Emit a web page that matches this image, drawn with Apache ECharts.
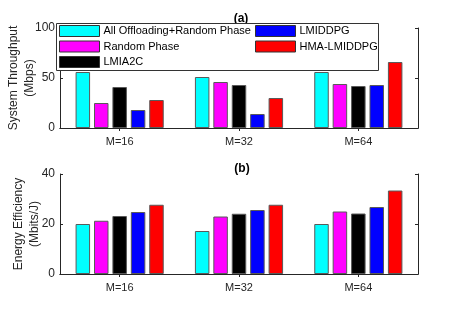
<!DOCTYPE html>
<html><head><meta charset="utf-8">
<script src="https://cdn.jsdelivr.net/npm/echarts@6/dist/echarts.min.js"></script>
<style>html,body{margin:0;padding:0;background:#fff}#c{width:463px;height:309px}</style>
</head><body><div id="c"></div>
<script>
const categories = ['M=16', 'M=32', 'M=64'];
const seriesNames = ['All Offloading+Random Phase', 'Random Phase', 'LMIA2C', 'LMIDDPG', 'HMA-LMIDDPG'];
const seriesColors = ['#00ffff', '#ff00ff', '#000000', '#0000ff', '#ff0000'];
// (a) System Throughput (Mbps)
const throughputAllOff = [56, 51, 56];
const throughputRandom = [25, 46, 44];
const throughputLMIA2C = [41, 43, 42];
const throughputLMIDDPG = [18, 14, 43];
const throughputHMA = [28, 30, 66];
// (b) Energy Efficiency (Mbits/J)
const eeAllOff = [20.0, 17.2, 20.0];
const eeRandom = [21.3, 23.0, 25.0];
const eeLMIA2C = [23.2, 24.1, 24.2];
const eeLMIDDPG = [24.8, 25.6, 26.8];
const eeHMA = [27.7, 27.7, 33.4];
const ticksA = [0, 50, 100];
const ticksB = [0, 20, 40];

const topData = [throughputAllOff, throughputRandom, throughputLMIA2C, throughputLMIDDPG, throughputHMA];
const botData = [eeAllOff, eeRandom, eeLMIA2C, eeLMIDDPG, eeHMA];

const FONT = 'Liberation Sans';
const axisCol = '#262626';

function mkSeries(data, gi) {
  return data.map((d, i) => ({
    name: seriesNames[i], type: 'bar', xAxisIndex: gi * 2, yAxisIndex: gi * 2,
    data: d, barWidth: 14.5, barGap: '27%',
    itemStyle: { color: seriesColors[i], borderColor: '#5a5a5a', borderWidth: 1 },
    emphasis: { disabled: true }, animation: false
  }));
}

function xAxes(gi) {
  return [
    { type: 'category', gridIndex: gi, data: categories, position: 'bottom',
      axisLine: { lineStyle: { color: axisCol, width: 1 } },
      axisTick: { show: true, inside: true, alignWithLabel: true, length: 3, lineStyle: { color: axisCol } },
      axisLabel: { color: '#262626', fontFamily: FONT, fontSize: 11, margin: 8 } },
    { type: 'category', gridIndex: gi, data: categories, position: 'top',
      axisLine: { lineStyle: { color: axisCol, width: 1 } },
      axisTick: { show: true, inside: true, alignWithLabel: true, length: 3, lineStyle: { color: axisCol } },
      axisLabel: { show: false } }
  ];
}
function yAxes(gi, ticks, name, gap) {
  const base = { type: 'value', gridIndex: gi, min: ticks[0], max: ticks[ticks.length - 1], interval: ticks[1] - ticks[0],
    splitLine: { show: false },
    axisLine: { show: true, lineStyle: { color: axisCol, width: 1 } },
    axisTick: { show: true, inside: true, length: 3, lineStyle: { color: axisCol } } };
  return [
    Object.assign({}, base, { position: 'left', name: name, nameLocation: 'middle', nameGap: gap,
      nameMoveOverlap: false,
      nameTextStyle: { fontFamily: FONT, fontSize: 12, color: '#262626', lineHeight: 16 },
      axisLabel: { color: '#262626', fontFamily: FONT, fontSize: 12, margin: 5 } }),
    Object.assign({}, base, { position: 'right', axisLabel: { show: false } })
  ];
}

const legendCommon = { orient: 'vertical', top: 25, padding: [0, 3, 0, 3], z: 100,
  icon: 'rect', itemWidth: 40, itemHeight: 11, itemGap: 3.5, selectedMode: false,
  itemStyle: { borderColor: '#333', borderWidth: 1 },
  textStyle: { fontFamily: FONT, fontSize: 11, color: '#000', padding: [0, 0, 0, -1] } };

const chart = echarts.init(document.getElementById('c'), null, { renderer: 'canvas' });
chart.setOption({
  animation: false,
  backgroundColor: '#fff',
  title: [
    { text: '(a)', left: 236, top: 8, textAlign: 'center', textStyle: { fontFamily: FONT, fontSize: 12, fontWeight: 'bold', color: '#000' } },
    { text: '(b)', left: 237, top: 158, textAlign: 'center', textStyle: { fontFamily: FONT, fontSize: 12, fontWeight: 'bold', color: '#000' } }
  ],
  grid: [
    { left: 60, top: 28, width: 358, height: 100, containLabel: false, outerBoundsMode: 'none' },
    { left: 60, top: 174, width: 358, height: 100, containLabel: false, outerBoundsMode: 'none' }
  ],
  xAxis: [...xAxes(0), ...xAxes(1)],
  yAxis: [...yAxes(0, ticksA, 'System Throughput\n(Mbps)', 22), ...yAxes(1, ticksB, 'Energy Efficiency\n(Mbits/J)', 17)],
  graphic: [{ type: 'rect', left: 56, top: 23, z: 90, shape: { width: 322, height: 47 },
    style: { fill: '#fff', stroke: '#333', lineWidth: 1 } }],
  legend: [
    Object.assign({}, legendCommon, { data: seriesNames.slice(0, 3), left: 56 }),
    Object.assign({}, legendCommon, { data: seriesNames.slice(3), left: 252 })
  ],
  series: [...mkSeries(topData, 0), ...mkSeries(botData, 1)]
});
</script></body></html>
